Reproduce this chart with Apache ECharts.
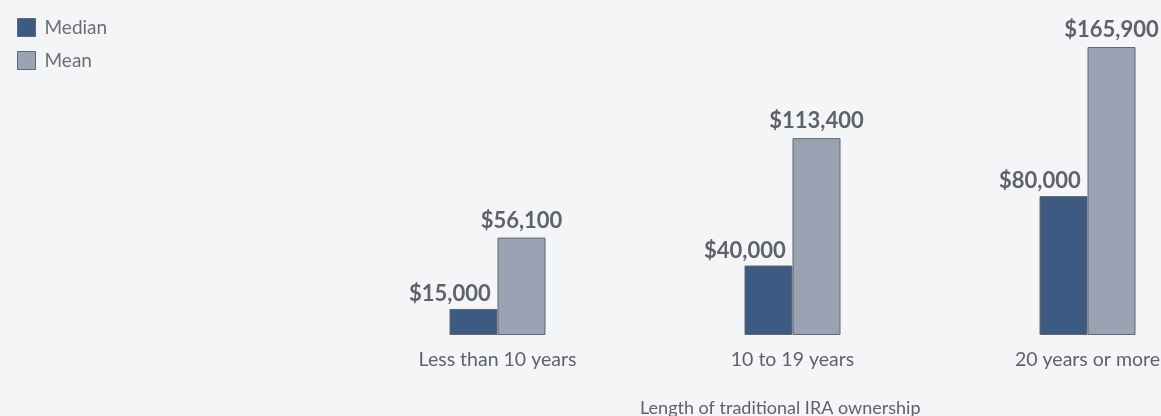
<!DOCTYPE html>
<html><head><meta charset="utf-8">
<script src="https://cdn.jsdelivr.net/npm/echarts@6/dist/echarts.min.js"></script>
<style>html,body{margin:0;padding:0;background:#f4f5f7}#c{width:1161px;height:416px}</style>
</head><body><div id="c"></div>
<script>
const categories = ['Less than 10 years', '10 to 19 years', '20 years or more'];
const medianValues = [15000, 40000, 80000];
const meanValues = [56100, 113400, 165900];
const seriesNames = ['Median', 'Mean'];
const axisTitle = 'Length of traditional IRA ownership';

const fmt = v => '$' + v.toLocaleString('en-US');
const chart = echarts.init(document.getElementById('c'));
const labelBase = {
  show: true, fontFamily: 'Lato', fontWeight: 'bold', fontSize: 22, color: '#5f6269',
  formatter: p => fmt(p.value)
};
chart.setOption({
  backgroundColor: '#f4f5f7',
  animation: false,
  legend: {
    orient: 'vertical', left: 12, top: 13, itemWidth: 18, itemHeight: 18, itemGap: 14,
    icon: 'rect',
    itemStyle: { borderColor: '#62666d', borderWidth: 1 },
    textStyle: { fontFamily: 'Lato', fontSize: 19, color: '#6b6e75', padding: [0,0,0,4] },
    data: seriesNames
  },
  title: {
    text: axisTitle, left: 635, top: 394,
    textStyle: { fontFamily: 'Lato', fontWeight: 'normal', fontSize: 18, color: '#5f6269' }
  },
  grid: { left: 350, right: -74, top: 47, bottom: 81, containLabel: false, outerBoundsMode: 'none' },
  xAxis: {
    type: 'category', data: categories,
    axisLine: { show: false }, axisTick: { show: false },
    axisLabel: { margin: 15, fontFamily: 'Lato', fontSize: 19.5, color: '#5f6269' }
  },
  yAxis: { type: 'value', min: 0, max: 165900, show: false, splitLine: { show: false } },
  series: [
    {
      name: seriesNames[0], type: 'bar', data: medianValues, barWidth: 48, barGap: '0%',
      itemStyle: { color: '#3d5a82', borderColor: '#62666d', borderWidth: 1 },
      label: Object.assign({}, labelBase, { position: ['86%', -4], align: 'right', verticalAlign: 'bottom' })
    },
    {
      name: seriesNames[1], type: 'bar', data: meanValues, barWidth: 48, barGap: '0%',
      itemStyle: { color: '#9aa3b3', borderColor: '#62666d', borderWidth: 1 },
      label: Object.assign({}, labelBase, { position: 'top', distance: 6 })
    }
  ]
});
</script></body></html>
